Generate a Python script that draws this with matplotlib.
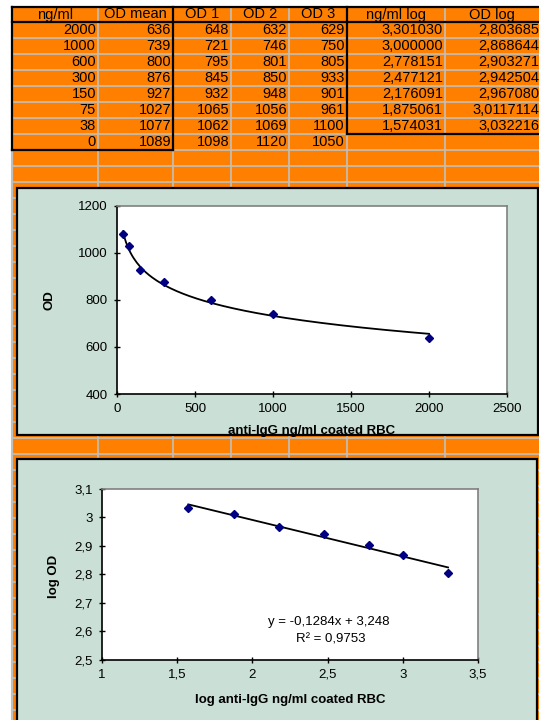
import numpy as np
import matplotlib
matplotlib.use("Agg")
import matplotlib.pyplot as plt
from matplotlib.patches import Rectangle
from matplotlib.ticker import FuncFormatter, MultipleLocator

plt.rcParams["font.family"] = ["Liberation Sans", "DejaVu Sans"]

# table data
headers = ["ng/ml", "OD mean", "OD 1", "OD 2", "OD 3", "ng/ml log", "OD log"]
ng_ml = [2000, 1000, 600, 300, 150, 75, 38, 0]
od_mean = [636, 739, 800, 876, 927, 1027, 1077, 1089]
od_1 = [648, 721, 795, 845, 932, 1065, 1062, 1098]
od_2 = [632, 746, 801, 850, 948, 1056, 1069, 1120]
od_3 = [629, 750, 805, 933, 901, 961, 1100, 1050]
ng_log_txt = ["3,301030", "3,000000", "2,778151", "2,477121", "2,176091", "1,875061", "1,574031"]
od_log_txt = ["2,803685", "2,868644", "2,903271", "2,942504", "2,967080", "3,0117114", "3,032216"]

ng_log = [float(s.replace(",", ".")) for s in ng_log_txt]
od_log = [float(s.replace(",", ".")) for s in od_log_txt]

ORANGE = "#FF8000"
GRID = "#C0C0C0"
CHART_BG = "#CADFD6"
NAVY = "#000080"

W, H = 539, 720
fig = plt.figure(figsize=(W / 100, H / 100), dpi=100)
bg = fig.add_axes([0, 0, 1, 1])
bg.set_xlim(0, W)
bg.set_ylim(H, 0)
bg.axis("off")

# sheet background + cell grid
bg.add_patch(Rectangle((12, 7), W - 12, H - 7, facecolor=ORANGE, edgecolor="none", zorder=0))
col_edges = [12, 98, 173, 231, 289, 347, 445, 539]
for x in col_edges[1:-1]:
    bg.plot([x, x], [7, H], color=GRID, lw=1.2, zorder=1)
bg.plot([12, 12], [7, H], color=GRID, lw=1.5, zorder=1)
for y in range(22, H, 16):
    bg.plot([12, W], [y, y], color=GRID, lw=1.2, zorder=1)

# table text
TFS = 10.5
for i, h in enumerate(headers):
    cx = (col_edges[i] + col_edges[i + 1]) / 2
    bg.text(cx, 14.5, h, ha="center", va="center", fontsize=TFS)
cols = [ng_ml, od_mean, od_1, od_2, od_3]
for r in range(len(ng_ml)):
    cy = 22 + 16 * r + 8.5
    for c, vals in enumerate(cols):
        bg.text(col_edges[c + 1] - 2, cy, str(vals[r]), ha="right", va="center", fontsize=TFS)
    if r < len(ng_log_txt):
        bg.text(col_edges[6] - 2, cy, ng_log_txt[r], ha="right", va="center", fontsize=TFS)
        bg.text(W, cy, od_log_txt[r], ha="right", va="center", fontsize=TFS)

# thick table borders
k = dict(color="black", lw=1.6, solid_capstyle="projecting", zorder=2)
bg.plot([12, W], [7, 7], **k)
bg.plot([12, W], [22, 22], **k)
bg.plot([12, 12], [7, 150], **k)
bg.plot([173, 173], [7, 150], **k)
bg.plot([12, 173], [150, 150], **k)
bg.plot([347, 347], [7, 134], **k)
bg.plot([347, W], [134, 134], **k)

# chart boxes
bg.add_patch(Rectangle((17, 188), 521, 247, facecolor=CHART_BG, edgecolor="black", lw=1.6, zorder=3))
bg.add_patch(Rectangle((17, 459), 520, 270, facecolor=CHART_BG, edgecolor="black", lw=1.6, zorder=3))

FS = 9.5


def style_axes(ax):
    ax.set_facecolor("white")
    for s in ["top", "right"]:
        ax.spines[s].set_color("#808080")
        ax.spines[s].set_linewidth(1.2)
    for s in ["left", "bottom"]:
        ax.spines[s].set_color("black")
        ax.spines[s].set_linewidth(1.2)
    ax.tick_params(direction="inout", length=5, width=1, labelsize=FS, pad=4)


def comma(v, pos):
    return ("%g" % v).replace(".", ",")


# chart 1: OD vs concentration, logarithmic trendline
ax1 = fig.add_axes([117 / W, 1 - 394 / H, 390 / W, 188.5 / H])
style_axes(ax1)
x1 = np.array(ng_ml[:7], dtype=float)
y1 = np.array(od_mean[:7], dtype=float)
a, b = np.polyfit(np.log(x1), y1, 1)
xs = np.linspace(x1.min(), x1.max(), 200)
ax1.plot(xs, a * np.log(xs) + b, color="black", lw=1.3)
ax1.plot(x1, y1, "D", color=NAVY, markersize=4.5, linestyle="none")
ax1.set_xlim(0, 2500)
ax1.set_ylim(400, 1200)
ax1.xaxis.set_major_locator(MultipleLocator(500))
ax1.yaxis.set_major_locator(MultipleLocator(200))
ax1.set_xlabel("anti-IgG ng/ml coated RBC", fontsize=FS, fontweight="bold")
ax1.set_ylabel("OD", fontsize=FS, fontweight="bold")
ax1.xaxis.set_label_coords(0.5, -0.165)
ax1.yaxis.set_label_coords(-0.157, 0.5)

# chart 2: log-log linear fit
ax2 = fig.add_axes([102 / W, 1 - 659.5 / H, 376 / W, 170.5 / H])
style_axes(ax2)
x2 = np.array(ng_log)
y2 = np.array(od_log)
m, c0 = np.polyfit(x2, y2, 1)
ax2.plot([x2.min(), x2.max()], [m * x2.min() + c0, m * x2.max() + c0], color="black", lw=1.3)
ax2.plot(x2, y2, "D", color=NAVY, markersize=4.5, linestyle="none")
ax2.set_xlim(1, 3.5)
ax2.set_ylim(2.5, 3.1)
ax2.xaxis.set_major_locator(MultipleLocator(0.5))
ax2.yaxis.set_major_locator(MultipleLocator(0.1))
ax2.xaxis.set_major_formatter(FuncFormatter(comma))
ax2.yaxis.set_major_formatter(FuncFormatter(comma))
ax2.set_xlabel("log anti-IgG ng/ml coated RBC", fontsize=FS, fontweight="bold")
ax2.set_ylabel("log OD", fontsize=FS, fontweight="bold")
ax2.xaxis.set_label_coords(0.5, -0.205)
ax2.yaxis.set_label_coords(-0.112, 0.49)
eq = "y = %sx + %s" % (("%.4f" % m).replace(".", ","), ("%.3f" % c0).replace(".", ","))
r2 = np.corrcoef(x2, y2)[0, 1] ** 2
ax2.text(2.505, 2.633, eq, ha="center", va="center", fontsize=FS)
ax2.text(2.52, 2.572, "R² = " + ("%.4f" % r2).replace(".", ","), ha="center", va="center", fontsize=FS)

fig.savefig("out.png", dpi=100)
